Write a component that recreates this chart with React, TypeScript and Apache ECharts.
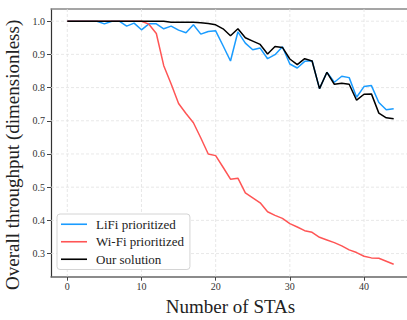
import React, { useEffect, useRef } from "react";
import * as echarts from "echarts";

const staCounts = [
  0, 1, 2, 3, 4, 5, 6, 7, 8, 9, 10, 11, 12, 13, 14, 15, 16, 17, 18, 19, 20, 21,
  22, 23, 24, 25, 26, 27, 28, 29, 30, 31, 32, 33, 34, 35, 36, 37, 38, 39, 40, 41,
  42, 43, 44,
];

const lifiPrioritized = [
  1.0, 1.0, 1.0, 1.0, 1.0, 0.992, 1.0, 1.0, 0.985, 0.994, 0.974, 0.992, 0.992,
  0.977, 0.985, 0.973, 0.965, 0.989, 0.961, 0.969, 0.971, 0.926, 0.88, 0.968,
  0.934, 0.914, 0.919, 0.887, 0.899, 0.923, 0.871, 0.859, 0.879, 0.881, 0.797,
  0.846, 0.816, 0.834, 0.83, 0.771, 0.803, 0.806, 0.755, 0.733, 0.736,
];

const wifiPrioritized = [
  1.0, 1.0, 1.0, 1.0, 1.0, 1.0, 1.0, 1.0, 1.0, 1.0, 1.0, 0.991, 0.963, 0.866,
  0.811, 0.752, 0.722, 0.694, 0.648, 0.6, 0.595, 0.56, 0.524, 0.527, 0.483,
  0.468, 0.453, 0.426, 0.415, 0.406, 0.39, 0.38, 0.369, 0.364, 0.349, 0.341,
  0.333, 0.323, 0.311, 0.303, 0.292, 0.287, 0.286, 0.277, 0.268,
];

const ourSolution = [
  1.0, 1.0, 1.0, 1.0, 1.0, 1.0, 1.0, 1.0, 1.0, 1.0, 1.0, 1.0, 1.0, 1.0, 0.997,
  0.997, 0.997, 0.997, 0.995, 0.993, 0.989, 0.977, 0.956, 0.977, 0.95, 0.94,
  0.93, 0.901, 0.924, 0.921, 0.886, 0.869, 0.887, 0.88, 0.797, 0.846, 0.81,
  0.813, 0.81, 0.762, 0.78, 0.781, 0.723, 0.709, 0.706,
];

const seriesNames = ["LiFi prioritized", "Wi-Fi prioritized", "Our solution"];
const seriesColors = ["#1a9cff", "#ff5555", "#000000"];
const xTicks = [0, 10, 20, 30, 40];
const yTicks = [0.3, 0.4, 0.5, 0.6, 0.7, 0.8, 0.9, 1.0];
const xRange = [-2.2, 46.2];
const yRange = [0.2303, 1.0367];

const FONT = "'Liberation Serif', 'Times New Roman', serif";

export default function App() {
  const ref = useRef<HTMLDivElement>(null);

  useEffect(() => {
    if (!ref.current) return;
    const chart = echarts.init(ref.current, undefined, { renderer: "svg" });
    const values = [lifiPrioritized, wifiPrioritized, ourSolution];
    // grid line items: [value, orientation] (0 = vertical at x tick, 1 = horizontal at y tick)
    const gridItems = [
      ...xTicks.map((v) => [v, 0]),
      ...yTicks.map((v) => [v, 1]),
    ];
    chart.setOption({
      animation: false,
      backgroundColor: "#ffffff",
      textStyle: { fontFamily: FONT },
      grid: {
        left: 51,
        top: 9,
        right: -3,
        bottom: 43.3,
        containLabel: false,
        outerBoundsMode: "none",
      },
      legend: {
        orient: "vertical",
        left: 57,
        top: 214,
        data: seriesNames,
        icon: "rect",
        itemWidth: 26,
        itemHeight: 1.6,
        itemGap: 3,
        padding: [3, 6, 3, 4],
        backgroundColor: "#ffffff",
        borderColor: "#d4d4d4",
        borderWidth: 1,
        borderRadius: 3,
        textStyle: {
          fontFamily: FONT,
          fontSize: 13,
          lineHeight: 14.5,
          color: "#222",
          padding: [0, 0, 0, 4],
        },
      },
      xAxis: [
        {
          type: "value",
          min: xRange[0],
          max: xRange[1],
          name: "Number of STAs",
          nameLocation: "middle",
          nameGap: 17,
          nameTextStyle: { fontFamily: FONT, fontSize: 19, color: "#222" },
          axisLine: {
            show: true,
            onZero: false,
            lineStyle: { color: "#666", width: 1.5 },
          },
          axisTick: {
            show: true,
            length: 4,
            customValues: xTicks,
            lineStyle: { color: "#444", width: 1 },
          },
          axisLabel: {
            customValues: xTicks,
            fontFamily: FONT,
            fontSize: 10,
            color: "#333",
            margin: 5,
          },
          splitLine: { show: false },
        },
        {
          type: "value",
          position: "top",
          min: xRange[0],
          max: xRange[1],
          axisLine: {
            show: true,
            onZero: false,
            lineStyle: { color: "#888", width: 1.5 },
          },
          axisTick: { show: false },
          axisLabel: { show: false },
          splitLine: { show: false },
        },
      ],
      yAxis: {
        type: "value",
        min: yRange[0],
        max: yRange[1],
        name: "Overall throughput (dimensionless)",
        nameLocation: "middle",
        nameGap: 26,
        nameTextStyle: {
          fontFamily: FONT,
          fontSize: 19,
          color: "#222",
          padding: [0, 24, 0, 0],
        },
        axisLine: {
          show: true,
          onZero: false,
          lineStyle: { color: "#333", width: 1.2 },
        },
        axisTick: {
          show: true,
          length: 4,
          customValues: yTicks,
          lineStyle: { color: "#444", width: 1 },
        },
        axisLabel: {
          customValues: yTicks,
          fontFamily: FONT,
          fontSize: 10,
          color: "#333",
          margin: 6,
          formatter: (v: number) => v.toFixed(1),
        },
        splitLine: { show: false },
      },
      series: [
        {
          name: "grid",
          type: "custom",
          silent: true,
          clip: false,
          z: 1,
          data: gridItems,
          encode: { x: 0, y: 0 },
          renderItem: (params: any, api: any) => {
            const v = api.value(0);
            const kind = api.value(1);
            const cs = params.coordSys;
            const style = {
              stroke: "#e2e2e2",
              lineWidth: 0.8,
              lineDash: [3, 2],
              fill: null,
            };
            if (kind === 0) {
              const x = api.coord([v, yRange[0]])[0];
              return {
                type: "line",
                shape: { x1: x, y1: cs.y, x2: x, y2: cs.y + cs.height },
                style,
              };
            }
            const y = api.coord([xRange[0], v])[1];
            return {
              type: "line",
              shape: { x1: cs.x, y1: y, x2: cs.x + cs.width, y2: y },
              style,
            };
          },
        },
        ...seriesNames.map((name, si) => ({
          name,
          type: "line",
          xAxisIndex: 0,
          data: staCounts.map((x, i) => [x, values[si][i]]),
          symbol: "none",
          showSymbol: false,
          color: seriesColors[si],
          lineStyle: { color: seriesColors[si], width: 1.5 },
          z: si === 2 ? 4 : 3,
        })),
      ],
    });
    return () => chart.dispose();
  }, []);

  return (
    <div
      ref={ref}
      style={{ position: "absolute", left: 0, top: 0, width: 407, height: 320 }}
    />
  );
}
